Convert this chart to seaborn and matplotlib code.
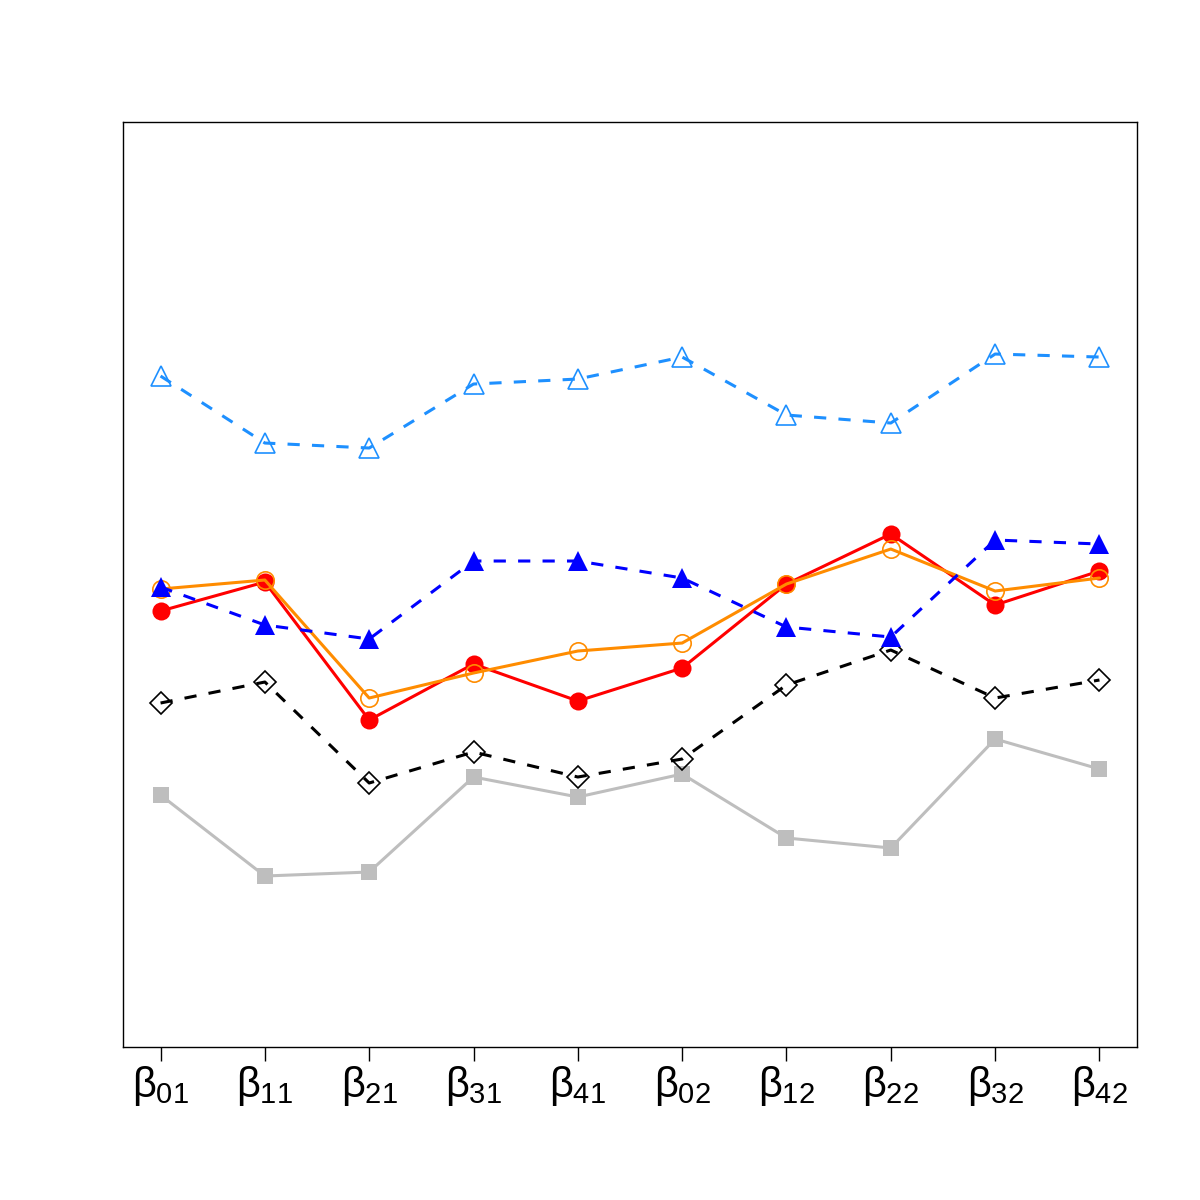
import matplotlib
matplotlib.use("Agg")
import matplotlib.pyplot as plt
import seaborn as sns
import numpy as np
import pandas as pd

# parameter labels on the x axis
params = ["01", "11", "21", "31", "41", "02", "12", "22", "32", "42"]
positions = np.arange(1, 11)

# series values (arbitrary units, no y axis shown)
lightblue_tri = [6.71, 6.04, 5.99, 6.63, 6.68, 6.90, 6.32, 6.24, 6.93, 6.90]
blue_tri      = [4.60, 4.22, 4.08, 4.86, 4.86, 4.69, 4.20, 4.10, 5.07, 5.03]
red_circ      = [4.36, 4.65, 3.27, 3.83, 3.46, 3.79, 4.63, 5.13, 4.42, 4.76]
orange_circ   = [4.58, 4.67, 3.49, 3.74, 3.96, 4.04, 4.63, 4.98, 4.56, 4.69]
black_diam    = [3.44, 3.65, 2.64, 2.95, 2.70, 2.88, 3.62, 3.97, 3.49, 3.67]
gray_sq       = [2.52, 1.71, 1.75, 2.70, 2.50, 2.73, 2.09, 1.99, 3.08, 2.78]

sns.set_style("white")
plt.rcParams["font.family"] = ["Liberation Sans", "DejaVu Sans"]
plt.rcParams["mathtext.fontset"] = "custom"
plt.rcParams["mathtext.rm"] = "Liberation Sans"
plt.rcParams["mathtext.it"] = "Liberation Sans"

fig = plt.figure(figsize=(12, 12), dpi=100)
ax = fig.add_axes([0.1025, 0.1275, 0.845, 0.7708])

series = [
    (gray_sq,       "#BEBEBE", "-",  "s", True),
    (black_diam,    "black",   "--", "D", False),
    (red_circ,      "red",     "-",  "o", True),
    (orange_circ,   "#FF8C00", "-",  "o", False),
    (blue_tri,      "blue",    "--", "^", True),
    (lightblue_tri, "#1E90FF", "--", "^", False),
]

for vals, col, ls, mk, filled in series:
    df = pd.DataFrame({"x": positions, "y": vals})
    sns.lineplot(data=df, x="x", y="y", ax=ax, color=col, linewidth=2.2,
                 legend=False)
    line = ax.lines[-1]
    if ls == "--":
        line.set_dashes([4.0, 4.0])
    if filled:
        ms = {"s": 11.5, "o": 13, "^": 14.5}[mk]
    else:
        ms = {"D": 11, "o": 12.5, "^": 15}[mk]
    ax.plot(positions, vals, linestyle="none", marker=mk, markersize=ms,
            markerfacecolor=col if filled else "none",
            markeredgecolor=col, markeredgewidth=1.2 if not filled else 0)

ax.set_xlim(1 - 0.36, 10 + 0.36)
ax.set_ylim(0, 9.25)
ax.set_xticks(positions)
ax.set_xticklabels([r"$\beta_{%s}$" % p for p in params], fontsize=30)
ax.set_yticks([])
ax.set_xlabel("")
ax.set_ylabel("")
ax.tick_params(axis="x", direction="out", length=10, width=1, pad=2,
               bottom=True, colors="black")
for s in ax.spines.values():
    s.set_color("black")
    s.set_linewidth(1)
    s.set_visible(True)

fig.savefig("out.png", dpi=100)
